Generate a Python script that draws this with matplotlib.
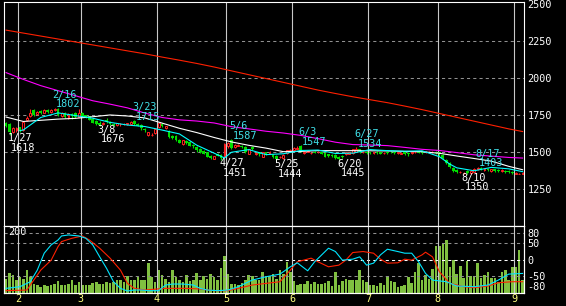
import numpy as np
import pandas as pd
import matplotlib
matplotlib.use('Agg')
import matplotlib.pyplot as plt

plt.rcParams['font.family'] = ['DejaVu Sans Mono', 'DejaVu Sans']
plt.rcParams['axes.unicode_minus'] = False
FS = 7.3

# trading days (Tokyo, 2022)
holidays = ['2022-02-11', '2022-02-23', '2022-03-21', '2022-04-29', '2022-05-03',
            '2022-05-04', '2022-05-05', '2022-07-18', '2022-08-11']
dates = pd.bdate_range('2022-01-26', '2022-09-05', freq='C', holidays=holidays)

opens = [1700, 1690, 1640, 1650,
         1668, 1650, 1715, 1745, 1785, 1758, 1782, 1768, 1785, 1772, 1785, 1795, 1748, 1768, 1730, 1760, 1765, 1740,
         1765, 1750, 1742, 1725, 1712, 1700, 1690, 1720, 1705, 1690, 1682, 1688, 1690, 1692, 1690, 1708, 1692, 1682,
         1660, 1615, 1615, 1630,
         1670, 1690, 1665, 1645, 1612, 1610, 1585, 1558, 1575, 1570, 1550, 1535, 1525, 1510, 1500, 1478, 1455, 1490,
         1480, 1470,
         1540, 1580, 1535, 1545, 1545, 1535, 1490, 1535, 1485, 1500, 1470, 1500, 1490, 1480, 1475, 1465, 1460, 1495,
         1505,
         1515, 1525, 1540, 1495, 1505, 1495, 1502, 1500, 1500, 1495, 1485, 1480, 1480, 1470, 1475, 1485, 1490, 1495,
         1505, 1520, 1500, 1505,
         1500, 1495, 1505, 1500, 1492, 1500, 1505, 1500, 1495, 1490, 1500, 1495, 1495, 1500, 1505, 1500, 1500, 1502,
         1500, 1505,
         1500, 1480, 1450, 1430, 1395, 1380, 1365, 1360, 1372, 1360, 1368, 1385, 1395, 1380, 1390, 1375, 1385, 1380,
         1375, 1375, 1372, 1370,
         1355, 1354, 1355]
highs = [1705, 1695, 1670, 1672,
         1672, 1712, 1745, 1790, 1790, 1778, 1786, 1790, 1790, 1792, 1802, 1798, 1772, 1770, 1762, 1765, 1770, 1795,
         1770, 1755, 1748, 1730, 1720, 1708, 1705, 1730, 1710, 1695, 1698, 1695, 1698, 1700, 1710, 1715, 1698, 1690,
         1665, 1640, 1628, 1660,
         1700, 1695, 1680, 1650, 1618, 1615, 1590, 1585, 1580, 1575, 1556, 1540, 1530, 1515, 1505, 1482, 1478, 1495,
         1485, 1560,
         1570, 1587, 1556, 1555, 1550, 1540, 1525, 1540, 1500, 1505, 1505, 1505, 1508, 1485, 1480, 1475, 1485, 1518,
         1525,
         1535, 1540, 1547, 1505, 1512, 1505, 1508, 1510, 1505, 1500, 1490, 1485, 1485, 1475, 1480, 1505, 1505, 1525,
         1534, 1525, 1510, 1510,
         1505, 1505, 1510, 1505, 1502, 1505, 1510, 1505, 1505, 1500, 1505, 1500, 1508, 1510, 1510, 1505, 1510, 1510,
         1508, 1510,
         1505, 1485, 1455, 1435, 1400, 1385, 1375, 1368, 1378, 1378, 1392, 1403, 1400, 1395, 1395, 1390, 1390, 1385,
         1385, 1380, 1378, 1375,
         1365, 1360, 1365]
lows = [1668, 1618, 1630, 1640,
        1640, 1645, 1708, 1740, 1745, 1750, 1758, 1762, 1768, 1768, 1780, 1745, 1740, 1730, 1722, 1725, 1732, 1735,
        1740, 1730, 1715, 1695, 1685, 1676, 1684, 1700, 1682, 1678, 1677, 1680, 1684, 1686, 1686, 1686, 1675, 1650,
        1640, 1610, 1610, 1625,
        1665, 1672, 1660, 1595, 1590, 1575, 1560, 1552, 1555, 1540, 1532, 1505, 1498, 1485, 1465, 1452, 1452, 1472,
        1451, 1465,
        1530, 1525, 1528, 1540, 1530, 1495, 1485, 1515, 1480, 1478, 1465, 1480, 1485, 1460, 1444, 1460, 1455, 1490,
        1500,
        1510, 1520, 1500, 1490, 1500, 1490, 1495, 1495, 1485, 1465, 1470, 1465, 1455, 1445, 1460, 1480, 1485, 1490,
        1500, 1495, 1495, 1488,
        1485, 1490, 1490, 1485, 1488, 1485, 1495, 1490, 1490, 1485, 1482, 1478, 1490, 1495, 1492, 1490, 1495, 1498,
        1495, 1490,
        1475, 1455, 1420, 1395, 1370, 1360, 1358, 1350, 1355, 1355, 1365, 1380, 1382, 1375, 1372, 1370, 1370, 1368,
        1370, 1360, 1362, 1352,
        1352, 1351, 1352]
closes = [1675, 1635, 1662, 1665,
          1645, 1705, 1730, 1768, 1752, 1772, 1762, 1785, 1775, 1788, 1790, 1750, 1765, 1735, 1758, 1742, 1738, 1762,
          1745, 1738, 1720, 1700, 1690, 1685, 1700, 1708, 1688, 1682, 1695, 1692, 1694, 1696, 1706, 1690, 1680, 1665,
          1650, 1635, 1620, 1655,
          1695, 1680, 1675, 1600, 1596, 1580, 1565, 1580, 1560, 1545, 1540, 1512, 1505, 1490, 1470, 1458, 1472, 1478,
          1458, 1555,
          1560, 1530, 1552, 1550, 1535, 1500, 1520, 1520, 1495, 1485, 1500, 1485, 1500, 1465, 1452, 1470, 1480, 1512,
          1518,
          1530, 1532, 1505, 1500, 1508, 1498, 1498, 1505, 1490, 1470, 1475, 1472, 1462, 1455, 1465, 1500, 1500, 1520,
          1525, 1500, 1505, 1495,
          1492, 1500, 1495, 1490, 1498, 1492, 1500, 1495, 1500, 1495, 1490, 1488, 1502, 1505, 1497, 1495, 1505, 1505,
          1503, 1495,
          1485, 1462, 1425, 1400, 1375, 1365, 1368, 1362, 1358, 1372, 1388, 1395, 1388, 1390, 1378, 1385, 1375, 1375,
          1380, 1365, 1368, 1358,
          1358, 1356, 1360]
volumes = [42, 60, 53, 38,
           48, 42, 68, 48, 28, 25, 18, 25, 20, 25, 28, 35, 23, 25, 28, 40, 25, 33,
           23, 25, 25, 30, 33, 28, 26, 33, 30, 33, 38, 40, 33, 51, 40, 40, 48, 40, 40, 90, 48, 33,
           68, 53, 43, 33, 68, 48, 38, 33, 53, 35, 38, 60, 38, 51, 43, 57, 48, 40, 74, 110,
           57, 28, 28, 23, 30, 40, 55, 51, 40, 40, 63, 51, 51, 57, 43, 68, 57, 93, 63,
           35, 23, 28, 28, 35, 28, 33, 28, 28, 30, 35, 20, 63, 23, 35, 43, 38, 40, 40, 68, 40, 33,
           23, 23, 20, 30, 23, 51, 35, 33, 18, 20, 23, 49, 30, 63, 90, 40, 53, 43, 72, 141,
           141, 147, 158, 78, 99, 57, 81, 45, 95, 51, 51, 90, 45, 53, 63, 45, 45, 34, 63, 68, 38, 78,
           78, 128, 40]

# moving averages, read every few sessions
ma_days = [0, 5, 10, 15, 20, 25, 30, 35, 40, 45, 50, 55, 60, 65, 70, 75, 80, 85, 90, 95, 100,
           105, 110, 115, 120, 125, 130, 135, 140, 145, 149]
ma_long = [2325, 2305, 2285, 2265, 2245, 2225, 2205, 2185, 2165, 2143, 2122, 2100, 2076, 2050, 2024, 1998,
           1972, 1946, 1920, 1897, 1875, 1855, 1835, 1812, 1788, 1762, 1736, 1710, 1684, 1658, 1640]
ma_mid = [2038, 1992, 1950, 1916, 1882, 1848, 1825, 1800, 1765, 1735, 1719, 1711, 1698, 1673, 1658, 1642,
          1630, 1614, 1592, 1568, 1552, 1549, 1545, 1533, 1520, 1512, 1498, 1483, 1474, 1465, 1461]
ma_25 = [1738, 1708, 1716, 1724, 1729, 1740, 1752, 1745, 1732, 1697, 1662, 1633, 1600, 1570, 1547, 1528,
         1504, 1506, 1511, 1511, 1511, 1510, 1509, 1506, 1504, 1493, 1475, 1458, 1440, 1405, 1382]
short_days = [4, 5, 10, 15, 20, 25, 30, 35, 40, 45, 50, 55, 60, 63, 65, 70, 75, 80, 85, 90, 95, 100,
              105, 110, 115, 120, 125, 128, 130, 135, 140, 145, 149]
ma_short = [1646, 1651, 1735, 1766, 1748, 1730, 1702, 1684, 1674, 1650, 1624, 1548, 1494, 1462, 1500, 1518,
            1484, 1490, 1512, 1515, 1492, 1494, 1518, 1511, 1507, 1510, 1470, 1420, 1395, 1375, 1398, 1388, 1369]

# oscillators in the lower panel
osc1_days = [0, 4, 7, 9, 11, 13, 15, 16, 18, 21, 23, 25, 27, 29, 31, 33, 35, 37, 39, 41, 44, 46, 48, 51, 54,
             56, 58, 61, 64, 67, 71, 75, 79, 82, 84, 87, 89, 93, 95, 97, 100, 102, 104, 106, 108, 110, 113, 115,
             117, 119, 121, 123, 127, 130, 135, 139, 142, 145, 149]
osc1 = [-87, -82, -67, -32, 19, 44, 59, 71, 74, 71, 64, 44, 8, -27, -67, -87, -95, -92, -92, -94, -94, -77,
        -74, -74, -77, -87, -92, -94, -92, -82, -62, -52, -44, -22, -10, -34, -7, 34, 24, -2, 1, 8, -17, -11,
        14, 31, 24, 19, 19, -7, -42, -62, -67, -80, -82, -77, -62, -44, -42]
osc2_days = [0, 6, 8, 10, 13, 15, 16, 19, 22, 24, 27, 30, 33, 35, 37, 40, 46, 52, 56, 60, 64, 67, 71, 75, 79,
             82, 84, 88, 90, 93, 96, 98, 100, 103, 106, 108, 110, 113, 115, 117, 120, 121, 123, 125, 128, 132,
             135, 139, 142, 146, 149]
osc2 = [-94, -92, -62, -32, -2, 39, 54, 64, 71, 59, 34, 4, -32, -72, -87, -92, -87, -87, -89, -94, -94, -87,
        -77, -72, -67, -32, -7, 4, -7, -22, -17, -2, 21, 24, 19, 1, -11, -10, 1, -2, 14, 22, 8, -37, -72, -82,
        -85, -80, -70, -67, -67]

high_marks = [14, 37, 65, 85, 101, 136]
low_marks = [1, 27, 62, 78, 96, 132]

opens, highs, lows, closes = map(np.array, (opens, highs, lows, closes))
x = np.arange(len(dates))
up = closes >= opens
RED = '#ff2020'
GREEN = '#00dd00'

# month boundaries
month_start = [i for i in range(1, len(dates)) if dates[i].month != dates[i - 1].month]
month_pos = [i - 0.5 for i in month_start]
month_lab = [str(dates[i].month) for i in month_start]

fig = plt.figure(figsize=(5.66, 3.06), dpi=100, facecolor='black')
ax1 = fig.add_axes([4 / 566, 80 / 306, 520 / 566, 224 / 306], facecolor='black')
ax2 = fig.add_axes([4 / 566, 13 / 306, 520 / 566, 67 / 306], facecolor='black')

# --- price panel
for v in [1250, 1500, 1750, 2000, 2250]:
    ax1.axhline(v, color='#909090', lw=0.75, ls=(0, (3, 3)), zorder=0.5)
for p in month_pos:
    ax1.axvline(p, color='#c8c8c8', lw=0.8, zorder=1)

ax1.vlines(x, lows, highs, colors=[RED if u else GREEN for u in up], lw=0.8, zorder=2)
ax1.bar(x[up], (closes - opens)[up], bottom=opens[up], width=0.55,
        facecolor='black', edgecolor=RED, lw=0.7, zorder=3)
ax1.bar(x[~up], (opens - closes)[~up], bottom=closes[~up], width=0.8,
        color=GREEN, lw=0, zorder=3)

ax1.plot(ma_days, ma_long, color='#ff2000', lw=0.8, zorder=4)
ax1.plot(ma_days, ma_mid, color='#ff00ff', lw=0.8, zorder=4)
ax1.plot(ma_days, ma_25, color='white', lw=0.8, zorder=4)
ax1.plot(short_days, ma_short, color='#00ffff', lw=0.8, zorder=4)

for i in high_marks:
    d = dates[i]
    ax1.annotate(f'{d.month}/{d.day}', (i, highs[i]), xytext=(-2, 13), textcoords='offset pixels',
                 ha='left', va='center', color='#40e0e8', fontsize=FS, zorder=5)
    ax1.annotate(f'{highs[i]}', (i, highs[i]), xytext=(1.5, 3.5), textcoords='offset pixels',
                 ha='left', va='center', color='#40e0e8', fontsize=FS, zorder=5)
for i in low_marks:
    d = dates[i]
    ax1.annotate(f'{d.month}/{d.day}', (i, lows[i]), xytext=(-2, -3.5), textcoords='offset pixels',
                 ha='left', va='center', color='white', fontsize=FS, zorder=5)
    ax1.annotate(f'{lows[i]}', (i, lows[i]), xytext=(1.5, -13), textcoords='offset pixels',
                 ha='left', va='center', color='white', fontsize=FS, zorder=5)

ax1.set_xlim(-0.6, 149.4)
ax1.set_ylim(1002, 2515)
ax1.set_xticks([])
ax1.set_yticks([1250, 1500, 1750, 2000, 2250, 2500])
ax1.yaxis.tick_right()
ax1.tick_params(axis='y', length=0, pad=2.5, labelcolor='white', labelsize=FS)
for s in ax1.spines.values():
    s.set_color('white')
    s.set_linewidth(0.8)

# --- volume / oscillator panel
ax2.bar(x, volumes, width=0.75, color='#80c040', lw=0, zorder=2)
ax2.set_ylim(0, 201)
ax2.set_xlim(-0.6, 149.4)
ax2.set_yticks([])
ax2.set_xticks(month_pos)
ax2.set_xticklabels(month_lab)
ax2.tick_params(axis='x', length=0, pad=1, labelcolor='#ffff80', labelsize=FS)
ax2.text(0.008, 0.91, '200', transform=ax2.transAxes, color='white', fontsize=FS,
         ha='left', va='center')

ax2o = ax2.twinx()
ax2o.set_ylim(-101, 101)
for v in [80, 50, -50]:
    ax2o.axhline(v, color='#909090', lw=0.75, ls=(0, (3, 3)), zorder=1)
ax2o.axhline(0, color='white', lw=0.75, ls=(0, (3, 3)), zorder=1)
for p in month_pos:
    ax2o.axvline(p, color='#c8c8c8', lw=0.8, zorder=1)
ax2o.plot(osc2_days, osc2, color='#ff2000', lw=0.8, zorder=3)
ax2o.plot(osc1_days, osc1, color='#00e5ff', lw=0.8, zorder=3)
ax2o.set_yticks([80, 50, 0, -50, -80])
ax2o.tick_params(axis='y', length=0, pad=2.5, labelcolor='white', labelsize=FS)
for a in (ax2, ax2o):
    for s in a.spines.values():
        s.set_color('white')
        s.set_linewidth(0.8)

fig.savefig('out.png', dpi=100, facecolor='black')
